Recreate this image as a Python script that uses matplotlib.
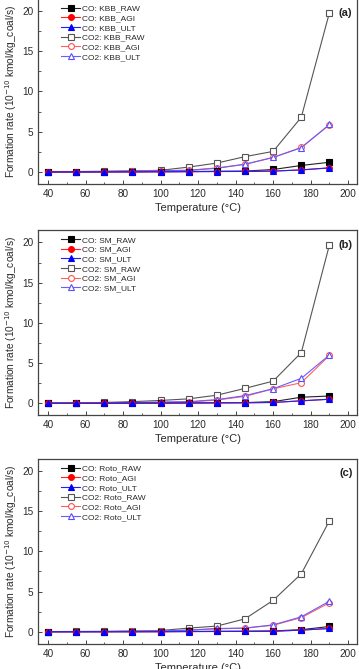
import matplotlib
matplotlib.use('Agg')
import matplotlib.pyplot as plt
from matplotlib.ticker import MultipleLocator

temp = [40, 55, 70, 85, 100, 115, 130, 145, 160, 175, 190]

# panel (a) KBB
a_co_raw = [0.0, 0.0, 0.0, 0.02, 0.03, 0.05, 0.08, 0.1, 0.3, 0.8, 1.2]
a_co_agi = [0.0, 0.0, 0.0, 0.0, 0.02, 0.03, 0.05, 0.06, 0.1, 0.25, 0.5]
a_co_ult = [0.0, 0.0, 0.0, 0.0, 0.02, 0.03, 0.05, 0.06, 0.1, 0.25, 0.5]
a_co2_raw = [0.05, 0.05, 0.08, 0.12, 0.2, 0.6, 1.1, 1.9, 2.55, 6.8, 19.8]
a_co2_agi = [0.0, 0.0, 0.05, 0.1, 0.15, 0.2, 0.5, 0.95, 1.8, 3.05, 5.85]
a_co2_ult = [0.0, 0.0, 0.05, 0.1, 0.15, 0.2, 0.45, 0.95, 1.8, 3.0, 5.9]

# panel (b) SM
b_co_raw = [0.0, 0.0, 0.0, 0.02, 0.03, 0.05, 0.06, 0.08, 0.2, 0.75, 0.9]
b_co_agi = [0.0, 0.0, 0.0, 0.0, 0.02, 0.03, 0.05, 0.06, 0.1, 0.3, 0.5]
b_co_ult = [0.0, 0.0, 0.0, 0.0, 0.02, 0.03, 0.05, 0.06, 0.1, 0.3, 0.5]
b_co2_raw = [0.05, 0.05, 0.1, 0.2, 0.35, 0.55, 1.0, 1.85, 2.75, 6.3, 19.7]
b_co2_agi = [0.0, 0.0, 0.05, 0.05, 0.1, 0.15, 0.4, 0.85, 1.8, 2.55, 5.95]
b_co2_ult = [0.0, 0.0, 0.05, 0.1, 0.15, 0.2, 0.45, 0.95, 1.8, 3.1, 6.0]

# panel (c) Roto
c_co_raw = [0.0, 0.0, 0.0, 0.0, 0.02, 0.03, 0.05, 0.06, 0.1, 0.25, 0.65]
c_co_agi = [0.0, 0.0, 0.0, 0.0, 0.0, 0.02, 0.03, 0.04, 0.06, 0.2, 0.4]
c_co_ult = [0.0, 0.0, 0.0, 0.0, 0.0, 0.02, 0.03, 0.04, 0.06, 0.2, 0.4]
c_co2_raw = [0.02, 0.03, 0.05, 0.08, 0.15, 0.45, 0.7, 1.6, 3.9, 7.2, 13.8]
c_co2_agi = [0.0, 0.0, 0.02, 0.05, 0.08, 0.2, 0.35, 0.45, 0.8, 1.75, 3.6]
c_co2_ult = [0.0, 0.0, 0.02, 0.05, 0.08, 0.2, 0.4, 0.45, 0.85, 1.85, 3.8]

panels = [
    ('KBB', '(a)', [a_co_raw, a_co_agi, a_co_ult, a_co2_raw, a_co2_agi, a_co2_ult]),
    ('SM', '(b)', [b_co_raw, b_co_agi, b_co_ult, b_co2_raw, b_co2_agi, b_co2_ult]),
    ('Roto', '(c)', [c_co_raw, c_co_agi, c_co_ult, c_co2_raw, c_co2_agi, c_co2_ult]),
]

# (label prefix, suffix, line colour, marker, marker face, marker edge)
styles = [
    ('CO', 'RAW', '#222222', 's', '#000000', '#000000'),
    ('CO', 'AGI', '#ff2020', 'o', '#ff0000', '#ff0000'),
    ('CO', 'ULT', '#2020ff', '^', '#0000ff', '#0000ff'),
    ('CO2', 'RAW', '#555555', 's', 'white', '#555555'),
    ('CO2', 'AGI', '#ff6060', 'o', 'white', '#ff5050'),
    ('CO2', 'ULT', '#6a5cff', '^', 'white', '#5a4cff'),
]

plt.rcParams['font.family'] = ['Liberation Sans', 'DejaVu Sans']
txt = '#2a2a2a'

fig = plt.figure(figsize=(3.59, 6.69), dpi=100)
bottoms = [0.725, 0.3792, 0.0377]

for (name, tag, series), b in zip(panels, bottoms):
    ax = fig.add_axes([0.106, b, 0.889, 0.2765])
    # CO2 drawn first so CO lines sit on top
    order = [3, 4, 5, 0, 1, 2]
    handles = {}
    for i in order:
        pre, suf, lc, mk, mf, me = styles[i]
        h, = ax.plot(temp, series[i], color=lc, lw=0.8, marker=mk, ms=4.2,
                     markerfacecolor=mf, markeredgecolor=me, markeredgewidth=0.8,
                     label=f'{pre}: {name}_{suf}')
        handles[i] = h
    hs = [handles[i] for i in range(6)]
    ax.legend(hs, [h.get_label() for h in hs], loc='upper left',
              bbox_to_anchor=(0.055, 1.0), frameon=False, fontsize=6,
              labelspacing=0.22, handlelength=2.2, handletextpad=0.3,
              borderaxespad=0.3, labelcolor=txt)
    ax.set_xlim(34.7, 204.8)
    ax.set_ylim(-1.5, 21.5)
    ax.xaxis.set_major_locator(MultipleLocator(20))
    ax.xaxis.set_minor_locator(MultipleLocator(10))
    ax.yaxis.set_major_locator(MultipleLocator(5))
    ax.yaxis.set_minor_locator(MultipleLocator(2.5))
    ax.tick_params(which='both', direction='in', colors='#444444',
                   labelcolor=txt, labelsize=7.2)
    ax.tick_params(which='major', length=3, width=0.7)
    ax.tick_params(which='minor', length=1.8, width=0.6)
    for s in ax.spines.values():
        s.set_linewidth(0.9)
        s.set_color('#444444')
    ax.set_xlabel('Temperature (\u00b0C)', fontsize=8, color=txt, labelpad=3)
    ax.set_ylabel('Formation rate (10$^{-10}$ kmol/kg_coal/s)', fontsize=7.3,
                  color=txt, labelpad=2)
    ax.text(0.985, 0.95, tag, transform=ax.transAxes, ha='right', va='top',
            fontsize=8, fontweight='bold', color='#222222')

fig.savefig('out.png', dpi=100)
